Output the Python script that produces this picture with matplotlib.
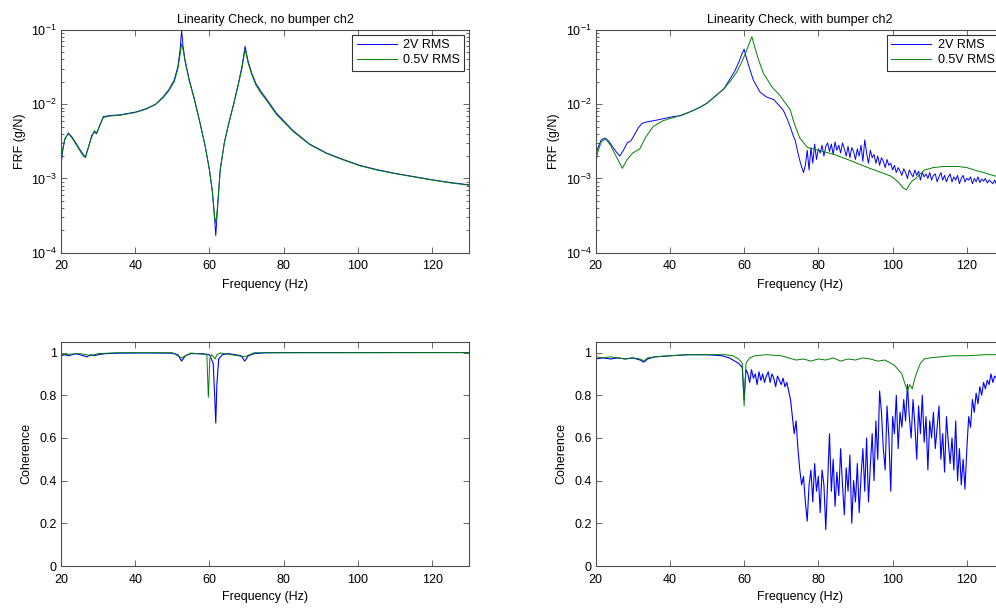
import numpy as np
import matplotlib
matplotlib.use('Agg')
import matplotlib.pyplot as plt
from matplotlib.ticker import FixedLocator, FixedFormatter

plt.rcParams['font.family'] = ['Liberation Sans', 'DejaVu Sans']
plt.rcParams['mathtext.fontset'] = 'custom'
plt.rcParams['mathtext.rm'] = 'Liberation Sans'
plt.rcParams['mathtext.it'] = 'Liberation Sans'

# ---------------- datos ----------------
labels = ['2V RMS', '0.5V RMS']
titles = ['Linearity Check, no bumper ch2', 'Linearity Check, with bumper ch2']

# FRF sin bumper
f_nb = [20, 20.5, 21, 22, 23, 24, 25, 26, 26.6, 27.5, 28.3, 29, 29.6, 30.3, 31.4, 33, 36, 40, 43,
        45.5, 47.5, 49, 50.5, 51.5, 52.1, 52.5, 52.9, 53.4, 54.5, 56, 57.5, 58.8, 60, 60.8, 61.4,
        61.7, 62.1, 62.9, 64, 65.1, 66.5, 67.8, 68.8, 69.6, 70.4, 71.4, 72.5, 74, 75.5, 78, 82.5,
        87, 91.5, 96, 100.5, 105, 110, 115, 120, 125, 130]
frf_nb_2v = [1.5e-3, 2.4e-3, 3.3e-3, 4.1e-3, 3.6e-3, 3.0e-3, 2.5e-3, 2.1e-3, 1.95e-3, 2.7e-3,
             3.8e-3, 4.2e-3, 4.0e-3, 4.9e-3, 6.8e-3, 7.0e-3, 7.2e-3, 7.8e-3, 8.7e-3, 1.0e-2,
             1.25e-2, 1.55e-2, 2.1e-2, 3.2e-2, 5.5e-2, 9.8e-2, 6.0e-2, 4.0e-2, 2.2e-2, 1.15e-2,
             5.5e-3, 2.8e-3, 1.3e-3, 6.5e-4, 2.8e-4, 1.7e-4, 3.5e-4, 1.3e-3, 3.0e-3, 5.3e-3,
             1.0e-2, 1.9e-2, 3.3e-2, 6.0e-2, 3.8e-2, 2.6e-2, 1.9e-2, 1.45e-2, 1.15e-2, 7.6e-3,
             4.4e-3, 2.9e-3, 2.2e-3, 1.8e-3, 1.5e-3, 1.32e-3, 1.17e-3, 1.06e-3, 9.6e-4, 8.8e-4, 8.2e-4]
frf_nb_05v = [1.6e-3, 2.5e-3, 3.4e-3, 4.0e-3, 3.5e-3, 2.9e-3, 2.4e-3, 2.0e-3, 1.9e-3, 2.8e-3,
              3.6e-3, 4.4e-3, 4.1e-3, 5.0e-3, 6.6e-3, 6.9e-3, 7.1e-3, 7.7e-3, 8.6e-3, 9.9e-3,
              1.22e-2, 1.5e-2, 2.0e-2, 3.0e-2, 4.6e-2, 6.5e-2, 5.4e-2, 3.8e-2, 2.1e-2, 1.12e-2,
              5.4e-3, 2.8e-3, 1.3e-3, 6.6e-4, 3.0e-4, 2.5e-4, 3.8e-4, 1.3e-3, 3.0e-3, 5.2e-3,
              9.8e-3, 1.85e-2, 3.1e-2, 5.5e-2, 3.6e-2, 2.5e-2, 1.8e-2, 1.38e-2, 1.1e-2, 7.3e-3,
              4.3e-3, 2.85e-3, 2.17e-3, 1.78e-3, 1.48e-3, 1.3e-3, 1.16e-3, 1.05e-3, 9.5e-4, 8.7e-4, 8.1e-4]

# FRF con bumper, 2V
f_wb_2v_a = [20, 20.5, 21.5, 22.5, 23.5, 24.5, 25.5, 26.5, 27.5, 28.5, 29.5, 30.5, 31.5, 32.5, 34,
             36.5, 39, 41, 43, 45.5, 48, 50, 52, 54.5, 56, 57.5, 58.5, 59.3, 60, 60.6, 61.5, 62.5,
             64.3, 66, 68, 69.5, 70.6, 71.5, 72.4, 73.2, 73.8, 74.5, 75.2, 76]
frf_wb_2v_a = [1.9e-3, 2.5e-3, 3.3e-3, 3.5e-3, 3.2e-3, 2.7e-3, 2.3e-3, 2.0e-3, 2.4e-3, 3.0e-3,
               3.2e-3, 3.9e-3, 4.8e-3, 5.5e-3, 5.8e-3, 6.1e-3, 6.5e-3, 6.8e-3, 7.0e-3, 7.9e-3,
               9.0e-3, 1.03e-2, 1.25e-2, 1.6e-2, 2.1e-2, 2.8e-2, 3.6e-2, 4.6e-2, 5.5e-2, 4.2e-2,
               3.0e-2, 2.1e-2, 1.45e-2, 1.25e-2, 1.15e-2, 9.5e-3, 8.2e-3, 6.5e-3, 5.0e-3, 3.8e-3,
               3.2e-3, 2.2e-3, 1.6e-3, 1.2e-3]
f0_wb_2v_b, df_wb_2v_b = 76.5, 0.5
frf_wb_2v_b = [x * 1e-3 for x in [
    1.5, 2.4, 1.3, 2.6, 1.6, 2.9, 1.8, 2.5,
    2.2, 2.8, 2.0, 2.7, 3.0, 2.3, 2.9, 2.1, 3.1, 2.4,
    2.8, 2.2, 3.0, 2.5, 2.0, 2.7, 1.9, 2.6, 2.3, 1.8,
    2.5, 2.0, 2.8, 1.7, 3.3, 2.2, 1.6, 2.4, 1.9, 2.1,
    1.6, 2.0, 1.5, 1.9, 1.7, 1.4, 1.8, 1.5, 1.6, 1.3,
    1.5, 1.2, 1.4, 1.25, 1.1, 1.35, 1.2, 1.0, 1.3, 1.15,
    1.05, 1.3, 1.1, 1.25, 0.95, 1.2, 1.05, 1.15, 1.0, 1.2,
    0.95, 1.1, 1.15, 0.9, 1.05, 1.2, 0.95, 1.1, 0.9, 1.05,
    1.15, 0.9, 1.05, 0.95, 1.1, 0.85, 1.0, 1.1, 0.9, 1.0,
    0.95, 1.05, 0.85, 1.0, 0.9, 1.05, 0.88, 0.98, 0.92, 1.0,
    0.87, 0.95, 0.9, 0.85, 0.95, 0.82, 0.9, 0.86, 0.92, 0.85]]

# FRF con bumper, 0.5V
f_wb_05v = [20, 20.5, 21.5, 22.7, 24, 25.5, 27.2, 28.5, 30, 31.9, 33.5, 35.5, 38.2, 41, 43, 45.5,
            48, 50, 52, 54.5, 56.5, 58, 59.5, 60.5, 61.4, 62.1, 62.8, 64, 65.2, 67.5, 69.7, 71,
            72.4, 73.5, 75, 77.1, 80, 84.3, 88.5, 93.3, 97, 99.6, 101.5, 102.8, 103.7, 105, 106.2,
            108.6, 111, 113.9, 117.5, 120, 122, 124.5, 127, 130]
frf_wb_05v = [x * 1e-3 for x in [
    1.5, 2.2, 3.1, 3.4, 2.8, 2.0, 1.37, 1.8, 2.2, 2.5, 3.6, 5.0, 6.0, 6.6, 7.1, 7.9,
    9.0, 10.3, 12.5, 16, 21, 27, 38, 50, 66, 81, 60, 38, 26, 17, 13, 10.5,
    8.5, 5.5, 3.5, 2.6, 2.4, 2.1, 1.75, 1.4, 1.2, 1.07, 0.9, 0.75, 0.7, 0.9, 1.0,
    1.3, 1.4, 1.45, 1.45, 1.4, 1.3, 1.2, 1.1, 1.0]]

# coherencia sin bumper
f_coh_nb_2v = [20, 21, 22, 23, 24, 25, 26, 27, 28, 29, 30, 32, 35, 40, 45, 50, 51.5, 52.5, 53.5,
               55, 58, 60, 61, 61.4, 61.7, 62, 62.5, 63.5, 65, 67, 68.5, 69.5, 70.5, 72, 75, 80, 130]
coh_nb_2v = [0.985, 0.99, 0.985, 0.99, 0.995, 0.99, 0.985, 0.98, 0.99, 0.985, 0.99, 0.995, 0.997,
             0.998, 0.998, 0.997, 0.99, 0.96, 0.985, 0.995, 0.995, 0.99, 0.95, 0.8, 0.67, 0.85,
             0.97, 0.99, 0.995, 0.99, 0.985, 0.96, 0.985, 0.995, 0.999, 1.0, 1.0]
f_coh_nb_05v = [20, 25, 27, 28, 30, 35, 50, 52.5, 55, 59.3, 59.7, 60.1, 60.6, 61.5, 62, 63, 69.5, 72, 130]
coh_nb_05v = [0.99, 0.995, 0.99, 0.985, 0.995, 0.999, 0.999, 0.975, 0.998, 0.99, 0.79, 0.97, 0.99,
              0.97, 0.99, 0.998, 0.98, 0.999, 1.0]

# coherencia con bumper, 2V
f_coh_wb_2v_a = [20, 22, 24, 26, 28, 30, 32, 33, 34, 36, 40, 45, 50, 54, 56, 57.5, 58.5, 59.5, 60, 60.5]
coh_wb_2v_a = [0.97, 0.975, 0.97, 0.975, 0.97, 0.975, 0.965, 0.955, 0.97, 0.98, 0.985, 0.99, 0.99,
               0.985, 0.975, 0.96, 0.95, 0.93, 0.78, 0.92]
f0_coh_wb_2v_b, df_coh_wb_2v_b = 61.0, 0.5
coh_wb_2v_b = [
    0.9, 0.86, 0.92, 0.88, 0.9, 0.85, 0.91, 0.87, 0.9, 0.86,
    0.89, 0.91, 0.86, 0.9, 0.88, 0.84, 0.89, 0.87, 0.85, 0.88,
    0.84, 0.86, 0.82, 0.78, 0.7, 0.62, 0.68, 0.55, 0.45, 0.38,
    0.42, 0.3, 0.21, 0.38, 0.45, 0.3, 0.48, 0.35, 0.42, 0.25,
    0.45, 0.38, 0.17, 0.4, 0.62, 0.35, 0.5, 0.28, 0.44, 0.33,
    0.55, 0.38, 0.24, 0.46, 0.35, 0.52, 0.2, 0.4, 0.3, 0.48,
    0.25, 0.42, 0.55, 0.35, 0.6, 0.3, 0.47, 0.62, 0.4, 0.68,
    0.5, 0.82, 0.72, 0.55, 0.45, 0.75, 0.6, 0.35, 0.7, 0.62,
    0.8, 0.55, 0.72, 0.65, 0.78, 0.68, 0.85, 0.7, 0.6, 0.78,
    0.66, 0.5, 0.75, 0.62, 0.8, 0.58, 0.7, 0.45, 0.68, 0.6,
    0.72, 0.55, 0.65, 0.75, 0.5, 0.62, 0.44, 0.7, 0.58, 0.48,
    0.6, 0.45, 0.68, 0.4, 0.55, 0.38, 0.5, 0.36, 0.55, 0.7,
    0.65, 0.78, 0.72, 0.81, 0.76, 0.84, 0.8, 0.86, 0.83, 0.87,
    0.85, 0.9, 0.86, 0.89, 0.88, 0.9, 0.87, 0.9, 0.88]

# coherencia con bumper, 0.5V
f_coh_wb_05v = [20, 22, 24, 26, 28, 30, 32, 33, 34, 36, 40, 45, 50, 55, 57, 58.5, 59.5, 60, 60.5, 61.5,
                63, 66, 70, 72, 74, 76, 78, 80, 82, 84, 86, 88, 90, 92, 94, 96, 98, 99.5, 100.5, 101.5,
                102.5, 103.2, 104, 104.6, 105.3, 106, 106.8, 107.5, 108.5, 110, 113, 116, 120, 125, 130]
coh_wb_05v = [0.98, 0.975, 0.98, 0.975, 0.97, 0.975, 0.97, 0.96, 0.975, 0.98,
              0.985, 0.99, 0.99, 0.99, 0.985, 0.97, 0.95, 0.75, 0.95, 0.975,
              0.985, 0.99, 0.985, 0.975, 0.965, 0.97, 0.96, 0.97, 0.965, 0.975,
              0.96, 0.97, 0.965, 0.975, 0.97, 0.96, 0.965, 0.95, 0.94, 0.92,
              0.9, 0.86, 0.82, 0.85, 0.83, 0.88, 0.92, 0.95, 0.97, 0.975,
              0.98, 0.985, 0.985, 0.99, 0.99]

# ---------------- figura ----------------
c_2v = '#0000ff'
c_05v = '#008000'
lw = 0.7

fig = plt.figure(figsize=(9.96, 6.09), dpi=100)
axL = [0.0612, 0.598]
axW = 0.41
ax_frf = [fig.add_axes([x0, 0.585, axW, 0.366]) for x0 in axL]
ax_coh = [fig.add_axes([x0, 0.0706, axW, 0.368]) for x0 in axL]

# FRF
f_wb_2v = list(f_wb_2v_a) + list(f0_wb_2v_b + df_wb_2v_b * np.arange(len(frf_wb_2v_b)))
frf_wb_2v = list(frf_wb_2v_a) + list(frf_wb_2v_b)
frf_sets = [((f_nb, frf_nb_2v), (f_nb, frf_nb_05v)),
            ((f_wb_2v, frf_wb_2v), (f_wb_05v, frf_wb_05v))]

for ax, (s1, s2), tit in zip(ax_frf, frf_sets, titles):
    ax.semilogy(s1[0], s1[1], color=c_2v, lw=lw, label=labels[0])
    ax.semilogy(s2[0], s2[1], color=c_05v, lw=lw, label=labels[1])
    ax.set_xlim(20, 130)
    ax.set_ylim(1e-4, 1e-1)
    ax.set_title(tit, fontsize=9, pad=5)
    ax.set_xlabel('Frequency (Hz)', fontsize=9, labelpad=4.5)
    ax.set_ylabel('FRF (g/N)', fontsize=9, labelpad=4)
    leg = ax.legend(loc='upper right', fontsize=9, handlelength=3.2, handletextpad=0.5,
                    fancybox=False, framealpha=1, borderpad=0.35, labelspacing=0.25,
                    borderaxespad=0.4)
    leg.get_frame().set_edgecolor('0.2')
    leg.get_frame().set_linewidth(0.8)

# coherencia
f_coh_wb_2v = list(f_coh_wb_2v_a) + list(f0_coh_wb_2v_b + df_coh_wb_2v_b * np.arange(len(coh_wb_2v_b)))
coh_wb_2v = list(coh_wb_2v_a) + list(coh_wb_2v_b)
coh_sets = [((f_coh_nb_2v, coh_nb_2v), (f_coh_nb_05v, coh_nb_05v)),
            ((f_coh_wb_2v, coh_wb_2v), (f_coh_wb_05v, coh_wb_05v))]

for ax, (s1, s2) in zip(ax_coh, coh_sets):
    ax.plot(s1[0], s1[1], color=c_2v, lw=0.8)
    ax.plot(s2[0], s2[1], color=c_05v, lw=lw)
    ax.set_xlim(20, 130)
    ax.set_ylim(0, 1.05)
    ax.yaxis.set_major_locator(FixedLocator([0, 0.2, 0.4, 0.6, 0.8, 1]))
    ax.yaxis.set_major_formatter(FixedFormatter(['0', '0.2', '0.4', '0.6', '0.8', '1']))
    ax.set_xlabel('Frequency (Hz)', fontsize=9, labelpad=3.5)
    ax.set_ylabel('Coherence', fontsize=9, labelpad=5)

for ax in ax_frf + ax_coh:
    ax.set_xticks([20, 40, 60, 80, 100, 120])
    ax.tick_params(which='both', direction='in', top=True, right=True, labelsize=9,
                   width=0.6, color='0.3', pad=3)
    ax.tick_params(axis='x', which='major', pad=5.5)
    ax.tick_params(which='major', length=4)
    ax.tick_params(which='minor', length=2)
    for sp in ax.spines.values():
        sp.set_color('0.3')
        sp.set_linewidth(0.8)

fig.savefig('out.png', dpi=100)
